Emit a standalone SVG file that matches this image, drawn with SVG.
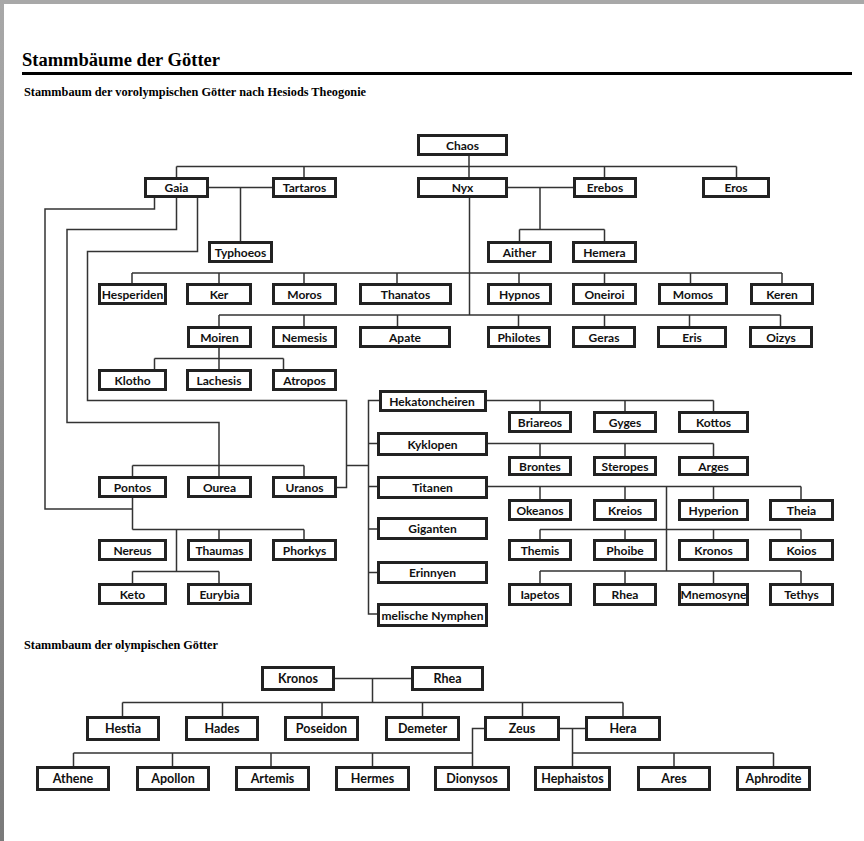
<svg xmlns="http://www.w3.org/2000/svg" width="864" height="841" viewBox="0 0 864 841">
<defs>
<linearGradient id="lg" x1="0" y1="0" x2="0" y2="1"><stop offset="0" stop-color="#a8a8a8"/><stop offset="1" stop-color="#7a7a7a"/></linearGradient>
<style>
.b{fill:#fff;stroke:#222;stroke-width:3}
.t{font-family:Lato,"Open Sans",sans-serif;font-weight:bold;font-size:12px;fill:#111;text-anchor:middle}
.o{font-size:12.5px}
.c{fill:none;stroke:#333;stroke-width:1.5}
.h{font-family:"Liberation Serif","Times New Roman",serif;font-weight:bold;fill:#000}
</style>
</defs>
<rect width="864" height="841" fill="#fff"/>
<rect width="864" height="4" fill="#a8a8a8"/>
<rect width="4" height="841" fill="url(#lg)"/>
<text class="h" x="22" y="66" font-size="18.5">Stammbäume der Götter</text>
<rect x="22" y="72" width="830" height="3" fill="#000"/>
<text class="h" x="24" y="96" font-size="12" textLength="342" lengthAdjust="spacingAndGlyphs">Stammbaum der vorolympischen Götter nach Hesiods Theogonie</text>
<text class="h" x="24" y="649" font-size="12" textLength="194" lengthAdjust="spacingAndGlyphs">Stammbaum der olympischen Götter</text>

<g id="connectors" class="c">
<path d="M469,156V177M176.5,166.5H736.5M176.5,166.5V177M304,166.5V177M604.5,166.5V177M736.5,166.5V177"/>
<path d="M209,187.5H272M240.5,187.5V241"/>
<path d="M508,187.5H573M540,187.5V229.5M519.5,229.5H604.5M519.5,229.5V241M604.5,229.5V241"/>
<path d="M469.5,198V315"/>
<path d="M132,273H782M132,273V283M219,273V283M304,273V283M397,273V283M519,273V283M604.5,273V283M690.5,273V283M782,273V283"/>
<path d="M219,315H780.5M219,315V326M304,315V326M397.5,315V326M518.5,315V326M604.5,315V326M689.5,315V326M780.5,315V326"/>
<path d="M219,348V358.5M154.5,358.5H283.5M154.5,358.5V369M219,358.5V369M283.5,358.5V369"/>
<path d="M154.5,198V209H45V509H132.5"/>
<path d="M176.5,198V229.5H67V422.5H219V465.5"/>
<path d="M197.5,198V251.5H87.5V400.5H346.5V487.5H337"/>
<path d="M346.5,465.5H368.5"/>
<path d="M379,400.5H368.5V614H377M368.5,443.5H377M368.5,486.5H377M368.5,529H377M368.5,572.5H377"/>
<path d="M487,400.5H713.5M540,400.5V411M625,400.5V411M713.5,400.5V411"/>
<path d="M488,443.5H713.5M540,443.5V456M625,443.5V456M713.5,443.5V456"/>
<path d="M488,486.5H801M540,486.5V499M625,486.5V499M713.5,486.5V499M801,486.5V499M666.5,486.5V571"/>
<path d="M540,529.5H801M540,529.5V539M625,529.5V539M713.5,529.5V539M801,529.5V539"/>
<path d="M540,571H801M540,571V583M625,571V583M713.5,571V583M801,571V583"/>
<path d="M132.5,465.5H304M132.5,465.5V476M219,465.5V476M304,465.5V476"/>
<path d="M132.5,498V529.5M132.5,529.5H304M219,529.5V539M304,529.5V539M176.5,529.5V571.5M132.5,571.5H219M132.5,571.5V583M219,571.5V583"/>
<path d="M335,678.5H411M372.5,678.5V702.5"/>
<path d="M122.5,702.5H623M122.5,702.5V716M222.5,702.5V716M322,702.5V716M422.5,702.5V716M522.5,702.5V716M623,702.5V716"/>
<path d="M484,728.5H472.5V766M73.5,753H472.5M73.5,753V766M172.5,753V766M271,753V766M372.5,753V766"/>
<path d="M560,728.5H585M572.5,728.5V766M572.5,753H773.5M674,753V766M773.5,753V766"/>
</g>

<g id="chaos"><rect class="b" x="418.5" y="135.5" width="88" height="19"/><text class="t" x="462.5" y="149.5">Chaos</text></g>
<g id="gaia"><rect class="b" x="145.5" y="178.5" width="62" height="18"/><text class="t" x="176.5" y="192">Gaia</text></g>
<g id="tartaros"><rect class="b" x="273.5" y="178.5" width="62" height="18"/><text class="t" x="304.5" y="192">Tartaros</text></g>
<g id="nyx"><rect class="b" x="418.5" y="178.5" width="88" height="18"/><text class="t" x="462.5" y="192">Nyx</text></g>
<g id="erebos"><rect class="b" x="574.5" y="178.5" width="61" height="18"/><text class="t" x="605" y="192">Erebos</text></g>
<g id="eros"><rect class="b" x="703.5" y="178.5" width="65" height="18"/><text class="t" x="736" y="192">Eros</text></g>
<g id="typhoeos"><rect class="b" x="209.5" y="242.5" width="62" height="19"/><text class="t" x="240.5" y="256.5">Typhoeos</text></g>
<g id="aither"><rect class="b" x="488.5" y="242.5" width="62" height="19"/><text class="t" x="519.5" y="256.5">Aither</text></g>
<g id="hemera"><rect class="b" x="573.5" y="242.5" width="62" height="19"/><text class="t" x="604.5" y="256.5">Hemera</text></g>

<g id="hesperiden"><rect class="b" x="99.5" y="284.5" width="66" height="19"/><text class="t" x="132.5" y="298.5">Hesperiden</text></g>
<g id="ker"><rect class="b" x="187.5" y="284.5" width="63" height="19"/><text class="t" x="219" y="298.5">Ker</text></g>
<g id="moros"><rect class="b" x="273.5" y="284.5" width="62" height="19"/><text class="t" x="304.5" y="298.5">Moros</text></g>
<g id="thanatos"><rect class="b" x="360.5" y="284.5" width="90" height="19"/><text class="t" x="405.5" y="298.5">Thanatos</text></g>
<g id="hypnos"><rect class="b" x="488.5" y="284.5" width="62" height="19"/><text class="t" x="519.5" y="298.5">Hypnos</text></g>
<g id="oneiroi"><rect class="b" x="573.5" y="284.5" width="62" height="19"/><text class="t" x="604.5" y="298.5">Oneiroi</text></g>
<g id="momos"><rect class="b" x="659.5" y="284.5" width="67" height="19"/><text class="t" x="693" y="298.5">Momos</text></g>
<g id="keren"><rect class="b" x="751.5" y="284.5" width="61" height="19"/><text class="t" x="782" y="298.5">Keren</text></g>

<g id="moiren"><rect class="b" x="188.5" y="327.5" width="62" height="19"/><text class="t" x="219.5" y="341.5">Moiren</text></g>
<g id="nemesis"><rect class="b" x="273.5" y="327.5" width="62" height="19"/><text class="t" x="304.5" y="341.5">Nemesis</text></g>
<g id="apate"><rect class="b" x="360.5" y="327.5" width="89" height="19"/><text class="t" x="405" y="341.5">Apate</text></g>
<g id="philotes"><rect class="b" x="488.5" y="327.5" width="61" height="19"/><text class="t" x="519" y="341.5">Philotes</text></g>
<g id="geras"><rect class="b" x="573.5" y="327.5" width="61" height="19"/><text class="t" x="604" y="341.5">Geras</text></g>
<g id="eris"><rect class="b" x="658.5" y="327.5" width="67" height="19"/><text class="t" x="692" y="341.5">Eris</text></g>
<g id="oizys"><rect class="b" x="750.5" y="327.5" width="61" height="19"/><text class="t" x="781" y="341.5">Oizys</text></g>

<g id="klotho"><rect class="b" x="99.5" y="370.5" width="66" height="19"/><text class="t" x="132.5" y="384.5">Klotho</text></g>
<g id="lachesis"><rect class="b" x="187.5" y="370.5" width="63" height="19"/><text class="t" x="219" y="384.5">Lachesis</text></g>
<g id="atropos"><rect class="b" x="273.5" y="370.5" width="62" height="19"/><text class="t" x="304.5" y="384.5">Atropos</text></g>

<g id="hekatoncheiren"><rect class="b" x="380.5" y="391.5" width="105" height="19"/><text class="t" x="432" y="405.5">Hekatoncheiren</text></g>
<g id="briareos"><rect class="b" x="509.5" y="412.5" width="61" height="19"/><text class="t" x="540" y="426.5">Briareos</text></g>
<g id="gyges"><rect class="b" x="594.5" y="412.5" width="61" height="19"/><text class="t" x="625" y="426.5">Gyges</text></g>
<g id="kottos"><rect class="b" x="679.5" y="412.5" width="68" height="19"/><text class="t" x="713.5" y="426.5">Kottos</text></g>

<g id="kyklopen"><rect class="b" x="378.5" y="433.5" width="108" height="21"/><text class="t" x="432.5" y="448.5">Kyklopen</text></g>
<g id="brontes"><rect class="b" x="509.5" y="457.5" width="61" height="17"/><text class="t" x="540" y="470.5">Brontes</text></g>
<g id="steropes"><rect class="b" x="594.5" y="457.5" width="61" height="17"/><text class="t" x="625" y="470.5">Steropes</text></g>
<g id="arges"><rect class="b" x="679.5" y="457.5" width="68" height="17"/><text class="t" x="713.5" y="470.5">Arges</text></g>

<g id="titanen"><rect class="b" x="378.5" y="477.5" width="108" height="20"/><text class="t" x="432.5" y="492">Titanen</text></g>
<g id="okeanos"><rect class="b" x="509.5" y="500.5" width="61" height="19"/><text class="t" x="540" y="514.5">Okeanos</text></g>
<g id="kreios"><rect class="b" x="594.5" y="500.5" width="61" height="19"/><text class="t" x="625" y="514.5">Kreios</text></g>
<g id="hyperion"><rect class="b" x="679.5" y="500.5" width="68" height="19"/><text class="t" x="713.5" y="514.5">Hyperion</text></g>
<g id="theia"><rect class="b" x="770.5" y="500.5" width="62" height="19"/><text class="t" x="801.5" y="514.5">Theia</text></g>

<g id="giganten"><rect class="b" x="378.5" y="518.5" width="108" height="20"/><text class="t" x="432.5" y="533">Giganten</text></g>
<g id="themis"><rect class="b" x="509.5" y="540.5" width="61" height="19"/><text class="t" x="540" y="554.5">Themis</text></g>
<g id="phoibe"><rect class="b" x="594.5" y="540.5" width="61" height="19"/><text class="t" x="625" y="554.5">Phoibe</text></g>
<g id="kronos1"><rect class="b" x="679.5" y="540.5" width="68" height="19"/><text class="t" x="713.5" y="554.5">Kronos</text></g>
<g id="koios"><rect class="b" x="770.5" y="540.5" width="62" height="19"/><text class="t" x="801.5" y="554.5">Koios</text></g>

<g id="erinnyen"><rect class="b" x="378.5" y="562.5" width="108" height="20"/><text class="t" x="432.5" y="577">Erinnyen</text></g>
<g id="iapetos"><rect class="b" x="509.5" y="584.5" width="61" height="20"/><text class="t" x="540" y="599">Iapetos</text></g>
<g id="rhea1"><rect class="b" x="594.5" y="584.5" width="61" height="20"/><text class="t" x="625" y="599">Rhea</text></g>
<g id="mnemosyne"><rect class="b" x="679.5" y="584.5" width="68" height="20"/><text class="t" x="713.5" y="599">Mnemosyne</text></g>
<g id="tethys"><rect class="b" x="770.5" y="584.5" width="62" height="20"/><text class="t" x="801.5" y="599">Tethys</text></g>
<g id="melische-nymphen"><rect class="b" x="378.5" y="604.5" width="108" height="21"/><text class="t" x="432.5" y="619.5">melische Nymphen</text></g>

<g id="pontos"><rect class="b" x="99.5" y="477.5" width="66" height="19"/><text class="t" x="132.5" y="491.5">Pontos</text></g>
<g id="ourea"><rect class="b" x="188.5" y="477.5" width="62" height="19"/><text class="t" x="219.5" y="491.5">Ourea</text></g>
<g id="uranos"><rect class="b" x="273.5" y="477.5" width="62" height="19"/><text class="t" x="304.5" y="491.5">Uranos</text></g>
<g id="nereus"><rect class="b" x="99.5" y="540.5" width="66" height="19"/><text class="t" x="132.5" y="554.5">Nereus</text></g>
<g id="thaumas"><rect class="b" x="188.5" y="540.5" width="62" height="19"/><text class="t" x="219.5" y="554.5">Thaumas</text></g>
<g id="phorkys"><rect class="b" x="273.5" y="540.5" width="62" height="19"/><text class="t" x="304.5" y="554.5">Phorkys</text></g>
<g id="keto"><rect class="b" x="99.5" y="584.5" width="66" height="19"/><text class="t" x="132.5" y="598.5">Keto</text></g>
<g id="eurybia"><rect class="b" x="188.5" y="584.5" width="62" height="19"/><text class="t" x="219.5" y="598.5">Eurybia</text></g>

<g id="kronos"><rect class="b" x="262.5" y="667.5" width="71" height="22"/><text class="t o" x="298" y="683">Kronos</text></g>
<g id="rhea"><rect class="b" x="412.5" y="667.5" width="70" height="22"/><text class="t o" x="447.5" y="683">Rhea</text></g>
<g id="hestia"><rect class="b" x="87.5" y="717.5" width="71" height="22"/><text class="t o" x="123" y="733">Hestia</text></g>
<g id="hades"><rect class="b" x="186.5" y="717.5" width="71" height="22"/><text class="t o" x="222" y="733">Hades</text></g>
<g id="poseidon"><rect class="b" x="285.5" y="717.5" width="72" height="22"/><text class="t o" x="321.5" y="733">Poseidon</text></g>
<g id="demeter"><rect class="b" x="386.5" y="717.5" width="72" height="22"/><text class="t o" x="422.5" y="733">Demeter</text></g>
<g id="zeus"><rect class="b" x="485.5" y="717.5" width="73" height="22"/><text class="t o" x="522" y="733">Zeus</text></g>
<g id="hera"><rect class="b" x="586.5" y="717.5" width="73" height="22"/><text class="t o" x="623" y="733">Hera</text></g>
<g id="athene"><rect class="b" x="37.5" y="767.5" width="71" height="22"/><text class="t o" x="73" y="783">Athene</text></g>
<g id="apollon"><rect class="b" x="137.5" y="767.5" width="71" height="22"/><text class="t o" x="173" y="783">Apollon</text></g>
<g id="artemis"><rect class="b" x="236.5" y="767.5" width="72" height="22"/><text class="t o" x="272.5" y="783">Artemis</text></g>
<g id="hermes"><rect class="b" x="336.5" y="767.5" width="72" height="22"/><text class="t o" x="372.5" y="783">Hermes</text></g>
<g id="dionysos"><rect class="b" x="435.5" y="767.5" width="73" height="22"/><text class="t o" x="472" y="783">Dionysos</text></g>
<g id="hephaistos"><rect class="b" x="535.5" y="767.5" width="74" height="22"/><text class="t o" x="572.5" y="783">Hephaistos</text></g>
<g id="ares"><rect class="b" x="638.5" y="767.5" width="71" height="22"/><text class="t o" x="674" y="783">Ares</text></g>
<g id="aphrodite"><rect class="b" x="737.5" y="767.5" width="72" height="22"/><text class="t o" x="773.5" y="783">Aphrodite</text></g>
</svg>
